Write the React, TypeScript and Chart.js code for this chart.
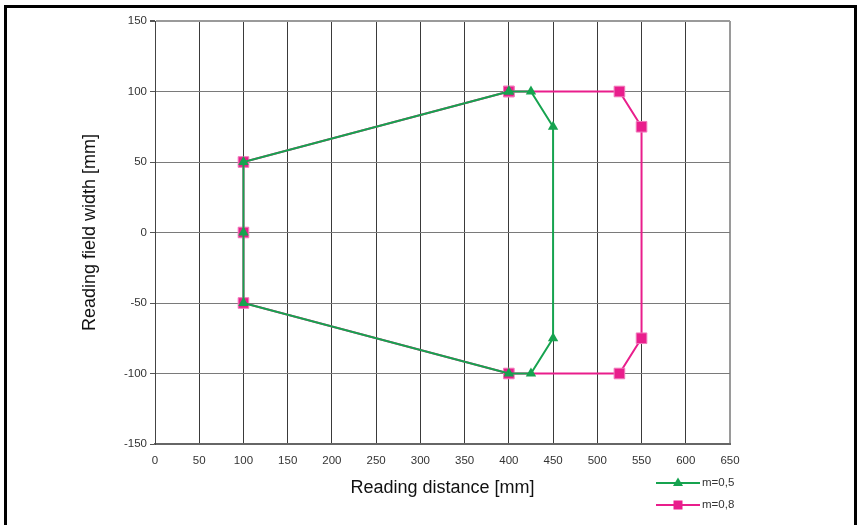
import React, { useEffect, useRef } from "react";
import { Chart, registerables } from "chart.js";

Chart.register(...registerables);

const xTitle = "Reading distance [mm]";
const yTitle = "Reading field width [mm]";

const seriesNames = ["m=0,5", "m=0,8"];

const greenX = [400, 425, 450, 450, 425, 400, 100, 100, 100, 400];
const greenY = [100, 100, 75, -75, -100, -100, -50, 0, 50, 100];

const pinkX = [400, 525, 550, 550, 525, 400, 100, 100, 100, 400];
const pinkY = [100, 100, 75, -75, -100, -100, -50, 0, 50, 100];

const xMin = 0, xMax = 650, xStep = 50;
const yMin = -150, yMax = 150, yStep = 50;

const GREEN = "#16a34f";
const PINK = "#e91e8c";
const FONT = "'Liberation Sans', Arial, Helvetica, sans-serif";

const legendPlugin = {
  id: "customLegend",
  afterDraw(chart: any) {
    const ctx = chart.ctx;
    ctx.save();
    const items = [
      { color: GREEN, style: "triangle", label: seriesNames[0], y: 483 },
      { color: PINK, style: "square", label: seriesNames[1], y: 505 },
    ];
    for (const it of items) {
      ctx.strokeStyle = it.color;
      ctx.lineWidth = 2;
      ctx.beginPath();
      ctx.moveTo(656, it.y);
      ctx.lineTo(700, it.y);
      ctx.stroke();
      ctx.fillStyle = it.color;
      const cx = 678;
      if (it.style === "triangle") {
        ctx.beginPath();
        ctx.moveTo(cx, it.y - 5.5);
        ctx.lineTo(cx + 5, it.y + 3);
        ctx.lineTo(cx - 5, it.y + 3);
        ctx.closePath();
        ctx.fill();
      } else {
        ctx.fillRect(cx - 4.5, it.y - 4.5, 9, 9);
      }
      ctx.fillStyle = "#333";
      ctx.font = "11.5px " + FONT;
      ctx.textBaseline = "middle";
      ctx.textAlign = "left";
      ctx.fillText(it.label, 702, it.y);
    }
    ctx.restore();
  },
};

export default function App() {
  const ref = useRef<HTMLCanvasElement>(null);
  useEffect(() => {
    if (!ref.current) return;
    const chart = new Chart(ref.current, {
      type: "scatter",
      data: {
        datasets: [
          {
            label: seriesNames[0],
            data: greenX.map((x, i) => ({ x, y: greenY[i] })),
            showLine: true,
            borderColor: GREEN,
            backgroundColor: GREEN,
            borderWidth: 2,
            pointStyle: "triangle",
            pointRadius: 6,
            pointBorderWidth: 0,
            tension: 0,
          },
          {
            label: seriesNames[1],
            data: pinkX.map((x, i) => ({ x, y: pinkY[i] })),
            showLine: true,
            borderColor: PINK,
            backgroundColor: PINK,
            borderWidth: 2,
            pointStyle: "rect",
            pointRadius: 7.5,
            pointBorderWidth: 1,
            pointBorderColor: "#f07cbc",
            tension: 0,
          },
        ],
      },
      options: {
        animation: false,
        responsive: false,
        layout: { padding: { left: 0, top: 21, right: 129, bottom: 0 } },
        plugins: {
          legend: { display: false },
          tooltip: { enabled: false },
        },
        scales: {
          x: {
            type: "linear",
            min: xMin,
            max: xMax,
            afterFit: (s: any) => {
              s.height = 81;
            },
            ticks: {
              stepSize: xStep,
              color: "#333",
              font: { family: FONT, size: 11.5 },
              padding: 10,
              maxRotation: 0,
            },
            grid: {
              drawTicks: false,
              color: (c: any) => (c.tick && c.tick.value === xMax ? "#9a9a9a" : "#3a3a3a"),
              lineWidth: (c: any) => (c.tick && c.tick.value === xMax ? 2 : 1),
            },
            border: { color: "#666", width: 2 },
            title: {
              display: true,
              text: xTitle,
              color: "#111",
              font: { family: FONT, size: 18 },
              padding: { top: 0, bottom: 26 },
            },
          },
          y: {
            type: "linear",
            min: yMin,
            max: yMax,
            afterFit: (s: any) => {
              s.width = 155;
            },
            ticks: {
              stepSize: yStep,
              color: "#333",
              font: { family: FONT, size: 11.5 },
              padding: 3,
            },
            grid: {
              drawTicks: true,
              tickLength: 5,
              tickColor: "#555",
              color: (c: any) => (c.tick && c.tick.value === yMax ? "#9a9a9a" : "#7a7a7a"),
              lineWidth: (c: any) => (c.tick && c.tick.value === yMax ? 2 : 1),
            },
            border: { color: "#444", width: 1 },
            title: {
              display: true,
              text: yTitle,
              color: "#111",
              font: { family: FONT, size: 18 },
              padding: { top: 79, bottom: 0 },
            },
          },
        },
      },
      plugins: [legendPlugin],
    } as any);
    return () => chart.destroy();
  }, []);

  return (
    <div
      style={{
        position: "fixed",
        left: 0,
        top: 0,
        width: 859,
        height: 525,
        overflow: "hidden",
        background: "#fff",
      }}
    >
      <canvas
        ref={ref}
        width={859}
        height={525}
        style={{ position: "absolute", left: 0, top: 0, width: 859, height: 525 }}
      />
      <div
        style={{
          position: "absolute",
          left: 4,
          top: 5,
          width: 853,
          height: 600,
          boxSizing: "border-box",
          border: "3px solid #000",
          pointerEvents: "none",
        }}
      />
    </div>
  );
}
